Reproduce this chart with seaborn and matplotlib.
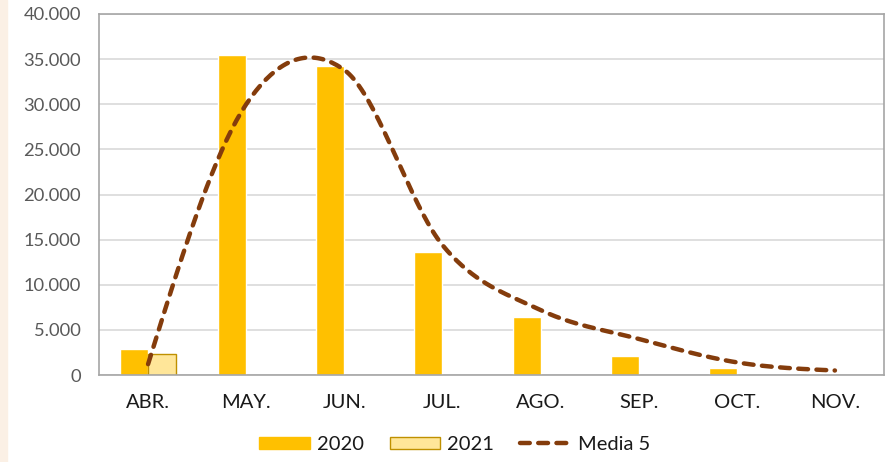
import numpy as np
import pandas as pd
import matplotlib
matplotlib.use("Agg")
import matplotlib.pyplot as plt
import seaborn as sns
from matplotlib.patches import Patch, Rectangle
from matplotlib.lines import Line2D
from matplotlib.ticker import FuncFormatter

meses = ["ABR.", "MAY.", "JUN.", "JUL.", "AGO.", "SEP.", "OCT.", "NOV."]
v2020 = [2880, 35460, 34270, 13630, 6430, 2140, 740, 150]
v2021 = [2290, np.nan, np.nan, np.nan, np.nan, np.nan, np.nan, np.nan]
media5 = [1200, 30000, 33800, 14400, 7200, 4000, 1400, 500]

sns.set_theme(style="white")
plt.rcParams["font.family"] = ["Lato", "DejaVu Sans"]


def smooth(y, n=40):
    # hermite spline like excel's smoothed line
    y = np.asarray(y, float)
    k = len(y)
    m = np.zeros(k)
    m[1:-1] = (y[2:] - y[:-2]) / 2
    m[0] = (3 * (y[1] - y[0]) - m[1]) / 2
    m[-1] = (3 * (y[-1] - y[-2]) - m[-2]) / 2
    xs, ys = [], []
    for i in range(k - 1):
        t = np.linspace(0, 1, n, endpoint=(i == k - 2))
        h00 = 2 * t**3 - 3 * t**2 + 1
        h10 = t**3 - 2 * t**2 + t
        h01 = -2 * t**3 + 3 * t**2
        h11 = t**3 - t**2
        xs.append(i + t)
        ys.append(h00 * y[i] + h10 * m[i] + h01 * y[i + 1] + h11 * m[i + 1])
    return np.concatenate(xs), np.concatenate(ys)


df = pd.DataFrame({
    "mes": meses * 2,
    "valor": v2020 + v2021,
    "anio": ["2020"] * 8 + ["2021"] * 8,
})

fig = plt.figure(figsize=(8.86, 4.62), dpi=100)
fig.patches.append(Rectangle((0, 0), 7 / 886, 1, transform=fig.transFigure,
                             color="#FBF0E5", zorder=0))
ax = fig.add_axes([99 / 886, 1 - 375 / 462, 785 / 886, 361 / 462])

sns.barplot(data=df, x="mes", y="valor", hue="anio", order=meses,
            palette={"2020": "#FFC000", "2021": "#FFE699"}, saturation=1,
            width=0.571, ax=ax, legend=False, zorder=2)
for p in ax.containers[1]:
    p.set_edgecolor("#BF9000")
    p.set_linewidth(1.0)

sx, sy = smooth(media5)
sns.lineplot(x=sx, y=sy, ax=ax, color="#843C0C", linewidth=3.2, sort=False,
             zorder=3)
ax.lines[-1].set_dashes((2.2, 1.9))
ax.lines[-1].set_dash_capstyle("round")

ax.set_xlim(-0.5, 7.5)
ax.set_ylim(0, 40000)
ax.set_yticks(range(0, 40001, 5000))
ax.yaxis.set_major_formatter(FuncFormatter(lambda v, p: f"{int(v):,}".replace(",", ".")))
ax.grid(axis="y", color="#D9D9D9", linewidth=1.2, zorder=0)
ax.set_axisbelow(True)
for s in ax.spines.values():
    s.set_color("#A6A6A6")
    s.set_linewidth(1.2)
ax.set_xlabel("")
ax.set_ylabel("")
ax.tick_params(axis="y", length=0, pad=13, labelsize=13.2, labelcolor="#595959")
ax.tick_params(axis="x", length=0, pad=14, labelsize=14.5, labelcolor="#1A1A1A")

handles = [
    Patch(facecolor="#FFC000", edgecolor="#FFC000"),
    Patch(facecolor="#FFE699", edgecolor="#BF9000"),
    Line2D([], [], color="#843C0C", linewidth=3.2, dashes=(2.2, 1.9),
           dash_capstyle="round"),
]
fig.legend(handles, ["2020", "2021", "Media 5"], loc="lower center",
           bbox_to_anchor=(0.513, -0.02), ncol=3, frameon=False,
           fontsize=14.5, handlelength=2.5, handleheight=0.6,
           columnspacing=1.3, handletextpad=0.35, labelcolor="#1A1A1A")

fig.savefig("out.png", dpi=100)
